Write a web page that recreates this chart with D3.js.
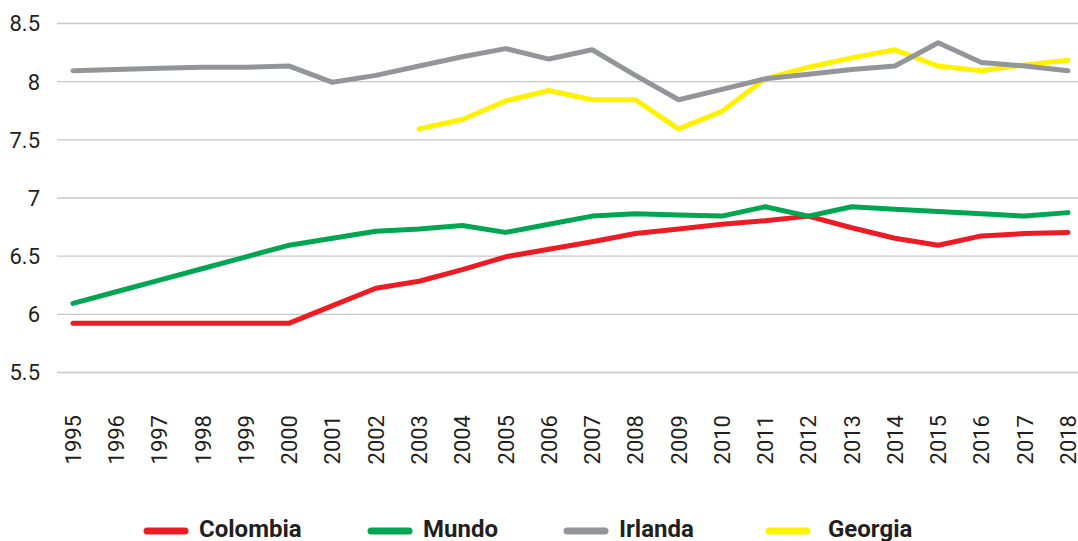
<!DOCTYPE html>
<html>
<head>
<meta charset="utf-8">
<script src="https://cdn.jsdelivr.net/npm/d3@7"></script>
<style>
  body { margin: 0; background: #fff; }
  svg { display: block; }
  .tick text { font-family: Roboto, "DejaVu Sans", sans-serif; fill: #231f20; }
</style>
</head>
<body>
<div class="chart"></div>
<script>

var years = ["1995","1996","1997","1998","1999","2000","2001","2002","2003","2004","2005","2006",
             "2007","2008","2009","2010","2011","2012","2013","2014","2015","2016","2017","2018"];

var yTicks = [5.5, 6, 6.5, 7, 7.5, 8, 8.5];

var colombia = [5.92, 5.92, 5.92, 5.92, 5.92, 5.92, 6.07, 6.22, 6.28, 6.38, 6.49, 6.555,
                6.62, 6.69, 6.73, 6.77, 6.80, 6.84, 6.74, 6.65, 6.59, 6.67, 6.69, 6.70];
var mundo    = [6.09, 6.19, 6.29, 6.39, 6.49, 6.59, 6.65, 6.71, 6.73, 6.76, 6.70, 6.77,
                6.84, 6.86, 6.85, 6.84, 6.92, 6.84, 6.92, 6.90, 6.88, 6.86, 6.84, 6.87];
var irlanda  = [8.09, 8.10, 8.11, 8.12, 8.12, 8.13, 7.99, 8.05, 8.13, 8.21, 8.28, 8.19,
                8.27, 8.05, 7.84, 7.93, 8.02, 8.06, 8.10, 8.13, 8.33, 8.16, 8.13, 8.09];
// Georgia has no data before 2003
var georgia  = [null, null, null, null, null, null, null, null, 7.59, 7.67, 7.83, 7.92,
                7.84, 7.84, 7.59, 7.74, 8.02, 8.12, 8.20, 8.27, 8.13, 8.09, 8.14, 8.18];

var seriesNames  = ["Colombia", "Mundo", "Irlanda", "Georgia"];
var seriesColors = ["#ed1c24", "#00a651", "#939598", "#fff200"];
var seriesValues = [colombia, mundo, irlanda, georgia];
// draw order: yellow under gray, red under green
var drawOrder = [0, 3, 1, 2];

var width = 1078, height = 541;
var plotLeft = 57, plotRight = 1078;

var svg = d3.select(".chart")
  .append("svg")
    .attr("width", width)
    .attr("height", height);

var x = d3.scalePoint()
  .domain(years)
  .range([73, 1068]);

var y = d3.scaleLinear()
  .domain([5.5, 8.5])
  .range([372, 23]);

// y axis + gridlines
var yAxis = svg.append("g")
  .attr("transform", "translate(" + plotLeft + ",0)")
  .call(d3.axisLeft(y)
    .tickValues(yTicks)
    .tickSize(-(plotRight - plotLeft))
    .tickPadding(17)
    .tickFormat(function(d) { return String(d); }));

yAxis.select(".domain").remove();
yAxis.selectAll(".tick line")
  .attr("stroke", "#c8c8c8")
  .attr("stroke-width", 1.4);
yAxis.selectAll(".tick text")
  .style("font-size", "22px")
  .attr("dy", "0.36em");

// x axis, rotated labels
var xAxis = svg.append("g")
  .attr("transform", "translate(0,0)")
  .call(d3.axisBottom(x).tickSize(0));

xAxis.select(".domain").remove();
xAxis.selectAll(".tick").attr("transform", function(d) { return "translate(" + x(d) + ",0)"; });
xAxis.selectAll(".tick text")
  .style("font-size", "22px")
  .attr("text-anchor", "end")
  .attr("x", 0)
  .attr("y", 0)
  .attr("dy", "0.36em")
  .attr("transform", "translate(0,415) rotate(-90)");

// lines
var line = d3.line()
  .defined(function(d) { return d.v !== null; })
  .x(function(d) { return x(d.year); })
  .y(function(d) { return y(d.v); });

drawOrder.forEach(function(i) {
  var pts = years.map(function(yr, j) { return { year: yr, v: seriesValues[i][j] }; });
  svg.append("path")
    .datum(pts)
    .attr("d", line)
    .attr("fill", "none")
    .attr("stroke", seriesColors[i])
    .attr("stroke-width", 5)
    .attr("stroke-linejoin", "round")
    .attr("stroke-linecap", "round");
});

// legend
var legendX = [147, 371, 567, 769];
var legendY = 531;

for (var i = 0; i < seriesNames.length; i++) {
  svg.append("line")
    .attr("x1", legendX[i])
    .attr("x2", legendX[i] + 38)
    .attr("y1", legendY)
    .attr("y2", legendY)
    .attr("stroke", seriesColors[i])
    .attr("stroke-width", 7)
    .attr("stroke-linecap", "round");

  svg.append("text")
    .attr("x", legendX[i] + (i == 3 ? 59 : 52))
    .attr("y", 537)
    .style("font-family", "Roboto, 'DejaVu Sans', sans-serif")
    .style("font-size", "24px")
    .style("font-weight", "bold")
    .style("fill", "#231f20")
    .text(seriesNames[i]);
}

</script>
</body>
</html>
